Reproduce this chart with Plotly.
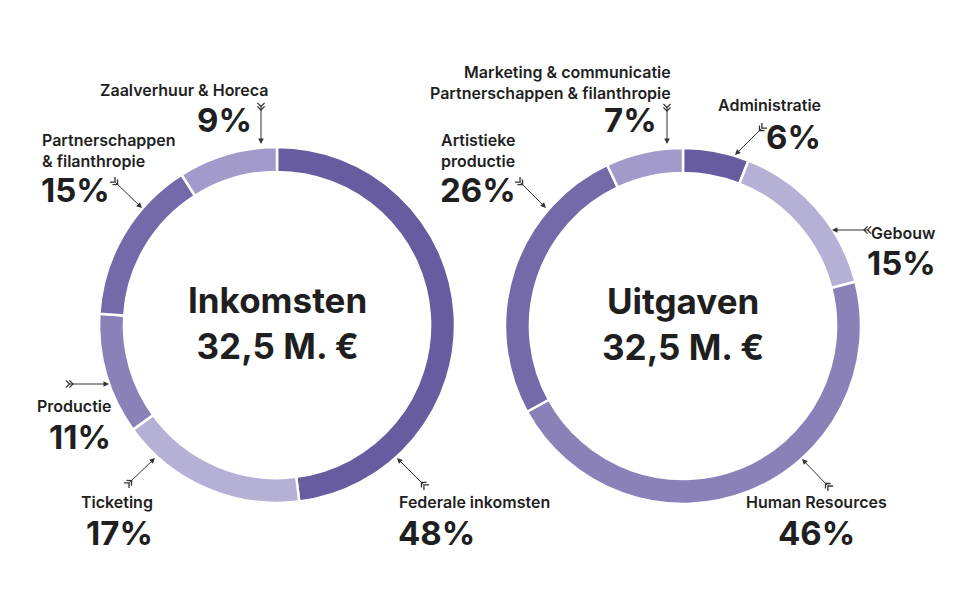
import numpy as np
import plotly.graph_objects as go

# 数据
inkomsten_labels = ['Federale inkomsten', 'Ticketing', 'Productie',
                    'Partnerschappen & filanthropie', 'Zaalverhuur & Horeca']
inkomsten_values = [48, 17, 11, 15, 9]

uitgaven_labels = ['Administratie', 'Gebouw', 'Human Resources',
                   'Artistieke productie', 'Marketing & communicatie Partnerschappen & filanthropie']
uitgaven_values = [6, 15, 46, 26, 7]

totaal_titels = ['Inkomsten', 'Uitgaven']
totaal_bedrag = ['32,5 M. €', '32,5 M. €']

# 颜色 (dark, light, medium, medium-dark, light-medium)
kleuren = ['#665c9f', '#b5b0d6', '#8a81b9', '#7469a9', '#a19aca']

W, H = 960, 610
OFF = 8  # body marge van de pagina
TXT = '#1f1f1f'
LINE = '#333333'


def px(x):
    return (x - OFF) / W


def py(y):
    return 1 - (y - OFF) / H


# 标签位置: 文本, 标签(x, y, anchor), 百分比(x, y, anchor), 箭头 tail, head  (pixel op scherm)
plaats_links = [
    ('Federale inkomsten', (397, 502, 'left'), (396, 533, 'left'), (425, 486), (397, 458)),
    ('Ticketing', (155, 502, 'right'), (155, 533, 'right'), (128, 484), (155, 458)),
    ('Productie', (113, 406, 'right'), (113, 437, 'right'), (68, 384), (109, 384)),
    ('Partnerschappen<br>& filanthropie', (40, 151, 'left'), (39, 190, 'left'), (114, 181), (142, 208)),
    ('Zaalverhuur & Horeca', (184, 90, 'center'), (254, 120, 'right'), (261, 105), (261, 144)),
]
plaats_rechts = [
    ('Administratie', (823, 105, 'right'), (823, 137, 'right'), (763, 127), (735, 155)),
    ('Gebouw', (938, 233, 'right'), (938, 263, 'right'), (869, 230), (832, 230)),
    ('Human Resources', (816, 502, 'center'), (816, 533, 'center'), (829, 487), (802, 459)),
    ('Artistieke<br>productie', (439, 151, 'left'), (438, 190, 'left'), (519, 181), (546, 208)),
    ('Marketing & communicatie<br>Partnerschappen & filanthropie', (673, 82, 'right'), (659, 120, 'right'), (667, 106), (667, 144)),
]

fig = go.Figure()

centra = [(277, 325), (683, 326)]
R = 178
for (cx, cy), vals, labs in zip(centra, [inkomsten_values, uitgaven_values],
                                [inkomsten_labels, uitgaven_labels]):
    fig.add_trace(go.Pie(
        values=vals, labels=labs, sort=False, direction='clockwise', rotation=0,
        hole=0.86, textinfo='none', hoverinfo='label+percent',
        marker=dict(colors=kleuren, line=dict(color='white', width=2.5)),
        domain=dict(x=[px(cx - R), px(cx + R)], y=[py(cy + R), py(cy - R)]),
        showlegend=False,
    ))

annotations = []
shapes = []

for (cx, cy), titel, bedrag in zip(centra, totaal_titels, totaal_bedrag):
    annotations.append(dict(x=px(cx), y=py(cy - 2), xref='paper', yref='paper',
                            text=titel + '<br>' + bedrag, showarrow=False,
                            xanchor='center', yanchor='middle', align='center',
                            font=dict(family='Inter', size=35, color=TXT, weight=700)))


def chevron(x, y, ux, uy, s=3.6):
    # V-vorm met punt naar de pijlkop
    nx, ny = -uy, ux
    p1 = (x - ux * s + nx * s, y - uy * s + ny * s)
    p2 = (x - ux * s - nx * s, y - uy * s - ny * s)
    return 'M{},{} L{},{} L{},{}'.format(px(p1[0]), py(p1[1]), px(x), py(y), px(p2[0]), py(p2[1]))


for vals, plaats in [(inkomsten_values, plaats_links), (uitgaven_values, plaats_rechts)]:
    for v, (tekst, lab, pct, tail, head) in zip(vals, plaats):
        annotations.append(dict(x=px(lab[0]), y=py(lab[1]), xref='paper', yref='paper',
                                text=tekst, showarrow=False, xanchor=lab[2], yanchor='middle',
                                align=lab[2],
                                font=dict(family='Inter', size=16, color=TXT, weight=600)))
        annotations.append(dict(x=px(pct[0]), y=py(pct[1]), xref='paper', yref='paper',
                                text='{}%'.format(v), showarrow=False, xanchor=pct[2],
                                yanchor='middle',
                                font=dict(family='Inter', size=33, color=TXT, weight=700)))
        # pijl
        annotations.append(dict(x=px(head[0]), y=py(head[1]), xref='paper', yref='paper',
                                ax=tail[0] - head[0], ay=tail[1] - head[1],
                                text='', showarrow=True, arrowhead=2, arrowsize=1.1,
                                arrowwidth=1, arrowcolor=LINE, standoff=0, startstandoff=0))
        d = np.array(head, dtype=float) - np.array(tail, dtype=float)
        u = d / np.linalg.norm(d)
        for k in [1.5, 5.0]:
            shapes.append(dict(type='path', xref='paper', yref='paper',
                               path=chevron(tail[0] + u[0] * k, tail[1] + u[1] * k, u[0], u[1]),
                               line=dict(color=LINE, width=1.3)))

fig.update_layout(
    width=W, height=H,
    margin=dict(l=0, r=0, t=0, b=0),
    paper_bgcolor='white', plot_bgcolor='white',
    annotations=annotations, shapes=shapes,
)

fig.write_html('out.html')
